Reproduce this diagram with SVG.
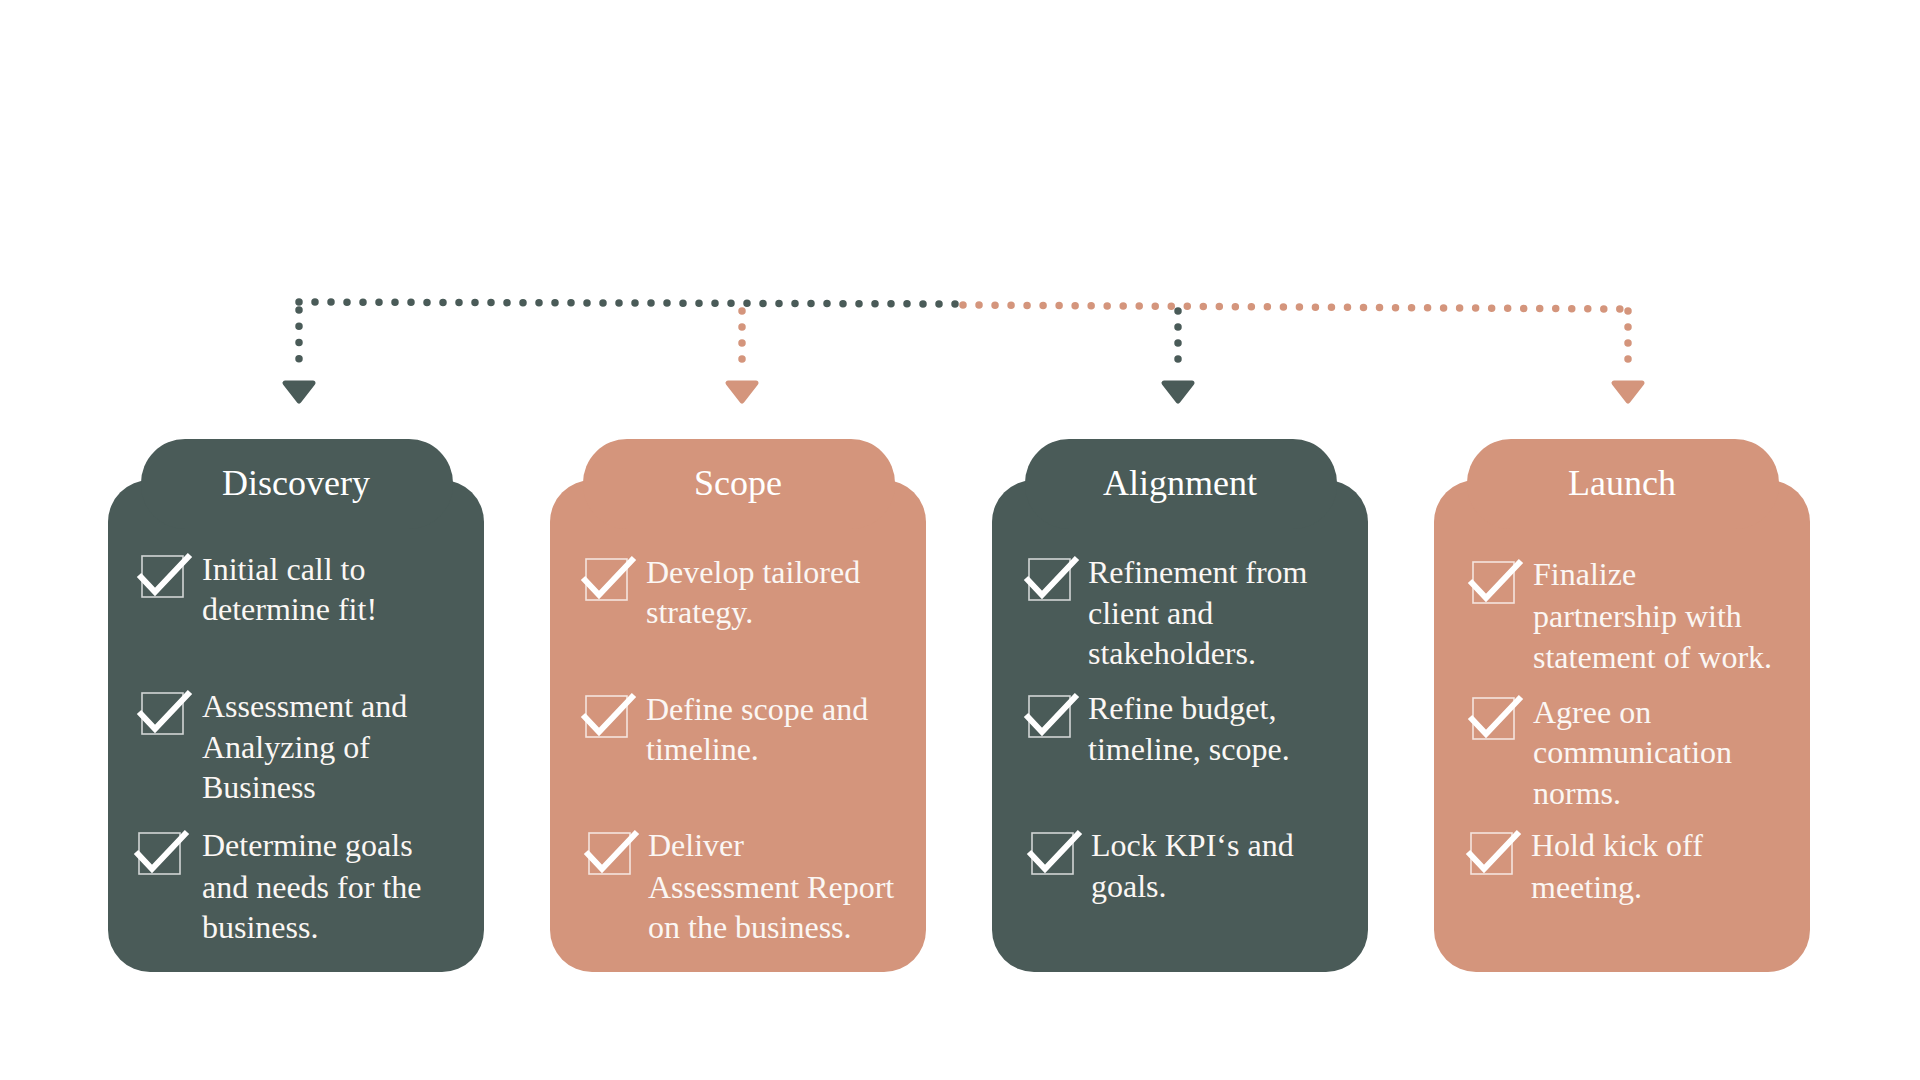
<svg xmlns="http://www.w3.org/2000/svg" xmlns:xlink="http://www.w3.org/1999/xlink" width="1920" height="1080" viewBox="0 0 1920 1080">
<style>
.dark{fill:#4a5b58}
.orange{fill:#d4957c}
.title{font-family:"Liberation Serif","Times New Roman",serif;font-size:36px;fill:#ffffff;text-anchor:middle}
.item{font-family:"Liberation Serif","Times New Roman",serif;font-size:32px;fill:#fbf7f4}
.dotD{fill:none;stroke:#4a5b58;stroke-width:7.5;stroke-linecap:round}
.dotO{fill:none;stroke:#d4957c;stroke-width:7.5;stroke-linecap:round}
.headD{fill:#4a5b58;stroke:#4a5b58;stroke-width:5;stroke-linejoin:round}
.headO{fill:#d4957c;stroke:#d4957c;stroke-width:5;stroke-linejoin:round}
.box{fill:none;stroke:#ffffff;stroke-opacity:0.75;stroke-width:1.6}
.tick{fill:none;stroke:#ffffff;stroke-width:6;stroke-linejoin:miter}
</style>
<defs>
<g id="chk">
<rect class="box" x="0" y="0" width="41" height="41"/>
<polyline class="tick" points="-3,19 13,36 48,-1"/>
</g>
<path id="head" d="M-14,383 L14,383 L0,401 Z"/>
</defs>
<rect x="0" y="0" width="1920" height="1080" fill="#ffffff"/>

<g id="connectors">
<path class="dotD" d="M299,302 L955,304" stroke-dasharray="0 16"/>
<path class="dotD" d="M299,310 L299,375" stroke-dasharray="0 16.25"/>
<path class="dotO" d="M963,305 L1620,309" stroke-dasharray="0 16.02"/>
<path class="dotO" d="M742,311 L742,375" stroke-dasharray="0 16"/>
<path class="dotD" d="M1178,311 L1178,375" stroke-dasharray="0 16"/>
<path class="dotO" d="M1628,311 L1628,375" stroke-dasharray="0 16"/>
<use href="#head" class="headD" transform="translate(299,0)"/>
<use href="#head" class="headO" transform="translate(742,0)"/>
<use href="#head" class="headD" transform="translate(1178,0)"/>
<use href="#head" class="headO" transform="translate(1628,0)"/>
</g>

<g id="discovery">
<rect class="dark" x="108" y="480" width="376" height="492" rx="42"/>
<rect class="dark" x="141" y="439" width="312" height="90" rx="44"/>
<text class="title" x="296" y="495">Discovery</text>
<use href="#chk" x="142" y="556"/>
<text class="item"><tspan x="202" y="580">Initial call to</tspan><tspan x="202" y="620">determine fit!</tspan></text>
<use href="#chk" x="142" y="693"/>
<text class="item"><tspan x="202" y="717">Assessment and</tspan><tspan x="202" y="758">Analyzing of</tspan><tspan x="202" y="798">Business</tspan></text>
<use href="#chk" x="139" y="833"/>
<text class="item"><tspan x="202" y="856">Determine goals</tspan><tspan x="202" y="898">and needs for the</tspan><tspan x="202" y="938">business.</tspan></text>
</g>

<g id="scope">
<rect class="orange" x="550" y="480" width="376" height="492" rx="42"/>
<rect class="orange" x="583" y="439" width="312" height="90" rx="44"/>
<text class="title" x="738" y="495">Scope</text>
<use href="#chk" x="586" y="559"/>
<text class="item"><tspan x="646" y="583">Develop tailored</tspan><tspan x="646" y="623">strategy.</tspan></text>
<use href="#chk" x="586" y="696"/>
<text class="item"><tspan x="646" y="720">Define scope and</tspan><tspan x="646" y="760">timeline.</tspan></text>
<use href="#chk" x="589" y="833"/>
<text class="item"><tspan x="648" y="856">Deliver</tspan><tspan x="648" y="898">Assessment Report</tspan><tspan x="648" y="938">on the business.</tspan></text>
</g>

<g id="alignment">
<rect class="dark" x="992" y="480" width="376" height="492" rx="42"/>
<rect class="dark" x="1025" y="439" width="312" height="90" rx="44"/>
<text class="title" x="1180" y="495">Alignment</text>
<use href="#chk" x="1029" y="559"/>
<text class="item"><tspan x="1088" y="583">Refinement from</tspan><tspan x="1088" y="624">client and</tspan><tspan x="1088" y="664">stakeholders.</tspan></text>
<use href="#chk" x="1029" y="696"/>
<text class="item"><tspan x="1088" y="719">Refine budget,</tspan><tspan x="1088" y="760">timeline, scope.</tspan></text>
<use href="#chk" x="1032" y="833"/>
<text class="item"><tspan x="1091" y="856">Lock KPI‘s and</tspan><tspan x="1091" y="897">goals.</tspan></text>
</g>

<g id="launch">
<rect class="orange" x="1434" y="480" width="376" height="492" rx="42"/>
<rect class="orange" x="1467" y="439" width="312" height="90" rx="44"/>
<text class="title" x="1622" y="495">Launch</text>
<use href="#chk" x="1473" y="562"/>
<text class="item"><tspan x="1533" y="585">Finalize</tspan><tspan x="1533" y="627">partnership with</tspan><tspan x="1533" y="668">statement of work.</tspan></text>
<use href="#chk" x="1473" y="698"/>
<text class="item"><tspan x="1533" y="723">Agree on</tspan><tspan x="1533" y="763">communication</tspan><tspan x="1533" y="804">norms.</tspan></text>
<use href="#chk" x="1471" y="833"/>
<text class="item"><tspan x="1531" y="856">Hold kick off</tspan><tspan x="1531" y="898">meeting.</tspan></text>
</g>
</svg>
